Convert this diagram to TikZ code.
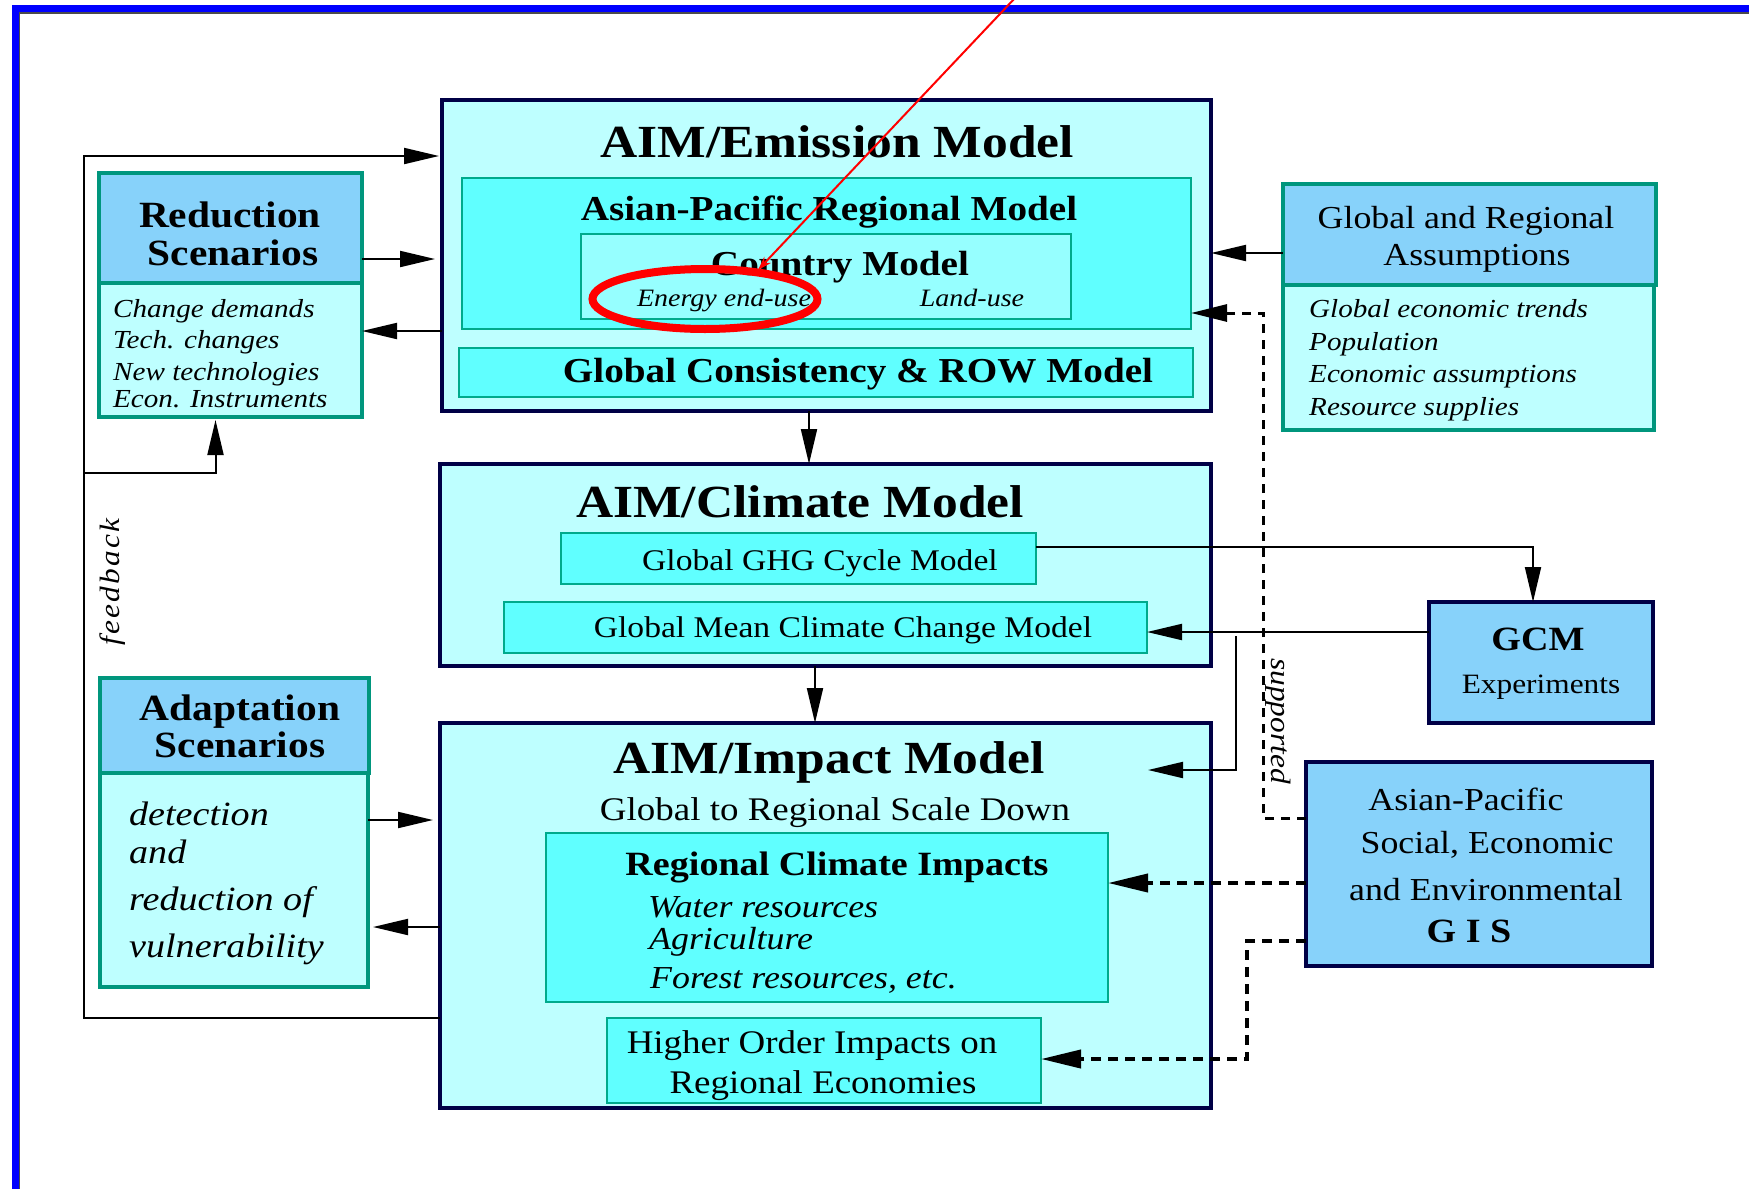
\documentclass[tikz,border=0pt]{standalone}
\usepackage{fontspec}
\setmainfont{Liberation Serif}[FakeStretch=1.12]
\usetikzlibrary{arrows.meta,shapes.geometric}
\definecolor{navyb}{RGB}{0,0,70}
\definecolor{lcyan}{RGB}{190,255,255}
\definecolor{mcyan}{RGB}{96,255,255}
\definecolor{ccyan}{RGB}{150,255,255}
\definecolor{sky}{RGB}{135,210,250}
\definecolor{tealb}{RGB}{0,150,125}
\definecolor{tealc}{RGB}{0,170,140}
\definecolor{frameblue}{RGB}{0,0,255}
\newcommand{\fsz}[1]{\fontsize{#1pt}{#1pt}\selectfont}
\begin{document}
\begin{tikzpicture}[x=1pt,y=-1pt,
  box/.style={anchor=north west, inner sep=0pt, outer sep=0pt},
  bigbox/.style={box, draw=navyb, line width=4pt, fill=lcyan},
  innerbox/.style={box, draw=tealc, line width=2.2pt, fill=mcyan},
  hdrbox/.style={box, draw=tealb, line width=3.5pt, fill=sky},
  bodybox/.style={box, draw=tealb, line width=3.5pt, fill=lcyan},
  navybox/.style={box, draw=navyb, line width=4pt, fill=sky},
  txt/.style={inner sep=0pt, anchor=base},
  ltxt/.style={inner sep=0pt, anchor=base west},
  arr/.style={line width=2pt, -{Triangle[length=35pt,width=16pt]}},
  darr/.style={line width=4pt, dash pattern=on 10pt off 7pt, -{Triangle[length=40pt,width=18pt]}},
  darrthin/.style={line width=3pt, dash pattern=on 9pt off 7pt, -{Triangle[length=36pt,width=17pt]}}
]
\useasboundingbox (0,0) rectangle (1749,1189);
\fill[white] (0,0) rectangle (1749,1189);
% window frame
\draw[gray!60!black, line width=1.5pt] (19.5,1189) -- (19.5,13) -- (1749,13);
\draw[frameblue, line width=7pt] (15,1189) -- (15,8.5) -- (1749,8.5);

% ---- boxes ----
\node[bigbox, minimum width=769pt, minimum height=311pt] (em) at (442,100) {};
\node[innerbox, minimum width=729pt, minimum height=151pt] (ap) at (462,178) {};
\node[innerbox, fill=ccyan, minimum width=490pt, minimum height=85pt] (cm) at (581,234) {};
\node[innerbox, minimum width=734pt, minimum height=49pt] (gc) at (459,348) {};

\node[bodybox, minimum width=263pt, minimum height=134pt] (redb) at (99,283) {};
\node[hdrbox, minimum width=263pt, minimum height=110pt] (redh) at (99,173) {};

\node[bodybox, minimum width=371pt, minimum height=145pt] (gab) at (1283,285) {};
\node[hdrbox, minimum width=373pt, minimum height=101pt] (gah) at (1283,184) {};

\node[bigbox, minimum width=771pt, minimum height=202pt] (cl) at (440,464) {};
\node[innerbox, minimum width=475pt, minimum height=51pt] (ghg) at (561,533) {};
\node[innerbox, minimum width=643pt, minimum height=51pt] (gm) at (504,602) {};

\node[navybox, minimum width=224pt, minimum height=121pt] (gcm) at (1429,602) {};

\node[bodybox, minimum width=268pt, minimum height=214pt] (adb) at (100,773) {};
\node[hdrbox, minimum width=269pt, minimum height=95pt] (adh) at (100,678) {};

\node[bigbox, minimum width=771pt, minimum height=385pt] (im) at (440,723) {};
\node[innerbox, minimum width=562pt, minimum height=169pt] (rci) at (546,833) {};
\node[innerbox, minimum width=434pt, minimum height=85pt] (ho) at (607,1018) {};

\node[navybox, minimum width=346pt, minimum height=204pt] (gis) at (1306,762) {};

% ---- texts (anchored on baselines) ----
\node[txt, font=\fsz{46}\bfseries] (emt) at (837,157) {AIM/Emission Model};
\node[txt, font=\fsz{35}\bfseries] (apt) at (829,220) {Asian-Pacific Regional Model};
\node[txt, font=\fsz{35}\bfseries] (cmt) at (840,275) {Country Model};
\node[txt, font=\fsz{25}\itshape] (eeu) at (724,306) {Energy end-use};
\node[txt, font=\fsz{25}\itshape] (lu) at (972,306) {Land-use};
\node[txt, font=\fsz{35}\bfseries] (gct) at (858,382) {Global Consistency \& ROW Model};

\node[txt, font=\fsz{37}\bfseries] (rt1) at (230,227) {Reduction};
\node[txt, font=\fsz{37}\bfseries] (rt2) at (233,265) {Scenarios};
\node[ltxt, font=\fsz{26}\itshape] (r1) at (113,317) {Change demands};
\node[ltxt, font=\fsz{26}\itshape] (r2) at (113,348) {Tech. changes};
\node[ltxt, font=\fsz{26}\itshape] (r3) at (113,380) {New technologies};
\node[ltxt, font=\fsz{26}\itshape] (r4) at (113,407) {Econ. Instruments};

\node[txt, font=\fsz{32}] (gt1) at (1466,228) {Global and Regional};
\node[txt, font=\fsz{32}] (gt2) at (1477,265) {Assumptions};
\node[ltxt, font=\fsz{26}\itshape] (g1) at (1309,317) {Global economic trends};
\node[ltxt, font=\fsz{26}\itshape] (g2) at (1309,350) {Population};
\node[ltxt, font=\fsz{26}\itshape] (g3) at (1309,382) {Economic assumptions};
\node[ltxt, font=\fsz{26}\itshape] (g4) at (1309,415) {Resource supplies};

\node[txt, font=\fsz{46}\bfseries] (clt) at (800,517) {AIM/Climate Model};
\node[txt, font=\fsz{30}] (ghgt) at (820,570) {Global GHG Cycle Model};
\node[txt, font=\fsz{30}] (gmt) at (843,637) {Global Mean Climate Change Model};

\node[txt, font=\fsz{34}\bfseries] (gcmt) at (1538,650) {GCM};
\node[txt, font=\fsz{28}] (gcme) at (1541,693) {Experiments};

\node[txt, font=\fsz{37}\bfseries] (at1) at (240,720) {Adaptation};
\node[txt, font=\fsz{37}\bfseries] (at2) at (240,757) {Scenarios};
\node[ltxt, font=\fsz{34}\itshape] (a1) at (129,825) {detection};
\node[ltxt, font=\fsz{34}\itshape] (a2) at (129,863) {and};
\node[ltxt, font=\fsz{34}\itshape] (a3) at (129,910) {reduction of};
\node[ltxt, font=\fsz{34}\itshape] (a4) at (129,957) {vulnerability};

\node[txt, font=\fsz{46}\bfseries] (imt) at (829,773) {AIM/Impact Model};
\node[txt, font=\fsz{33}] (gts) at (835,820) {Global to Regional Scale Down};
\node[txt, font=\fsz{34}\bfseries] (rcit) at (837,875) {Regional Climate Impacts};
\node[ltxt, font=\fsz{32}\itshape] (w1) at (648,917) {Water resources};
\node[ltxt, font=\fsz{32}\itshape] (w2) at (649,949) {Agriculture};
\node[ltxt, font=\fsz{32}\itshape] (w3) at (650,988) {Forest resources, etc.};
\node[txt, font=\fsz{33}] (ho1) at (812,1053) {Higher Order Impacts on};
\node[txt, font=\fsz{33}] (ho2) at (823,1093) {Regional Economies};

\node[txt, font=\fsz{32}] (gis1) at (1466,810) {Asian-Pacific};
\node[txt, font=\fsz{32}] (gis2) at (1487,853) {Social, Economic};
\node[txt, font=\fsz{32}] (gis3) at (1486,900) {and Environmental};
\node[txt, font=\fsz{34}\bfseries] (gis4) at (1469,942) {G I S};

\node[inner sep=0pt, rotate=90, font=\fsz{28}\itshape\addfontfeature{LetterSpace=8}] (fbt) at (113,582) {feedback};
\node[inner sep=0pt, rotate=-90, font=\fsz{28}\itshape] (spt) at (1278,721) {supported};

% ---- connectors ----
\coordinate (fb) at (84,473);
\draw[arr, shorten >=3pt] (im.west |- 0,1018) -| (fb) |- (em.west |- 0,156);
\draw[arr, shorten >=3pt] (fb) -| ([xshift=-15pt]redb.south);
\draw[arr, shorten >=7pt] (redh.east |- 0,259) -- (em.west |- 0,259);
\draw[arr] (em.west |- 0,331) -- (redb.east |- 0,331);
\draw[arr] (gah.west |- 0,253) -- (em.east |- 0,253);
\coordinate (sup) at (1263,313);
\draw[darrthin] (gis.west |- 0,818) -| (sup) -- (ap.east |- 0,313);
\draw[arr] (em.south -| 809,0) -- (cl.north -| 809,0);
\draw[arr] (cl.south -| 815,0) -- (im.north -| 815,0);
\draw[arr] (ghg.east |- 0,547) -| (gcm.north -| 1533,0);
\draw[arr] (gcm.west |- 0,632) -- (gm.east |- 0,632);
\coordinate (brs) at (1236,636);
\coordinate (brt) at (1148,770);
\draw[arr] (brs) |- (brt);
\draw[arr, shorten >=7pt] (adb.east |- 0,820) -- (im.west |- 0,820);
\draw[arr, shorten >=5pt] (im.west |- 0,927) -- (adb.east |- 0,927);
\draw[darr] (gis.west |- 0,883) -- (rci.east |- 0,883);
\coordinate (hk) at (1247,1059);
\draw[darr] (gis.west |- 0,941) -| (hk) -- (ho.east |- 0,1059);

% ---- red annotation ----
\node[draw=red, line width=8pt, ellipse, inner sep=0pt, minimum width=225pt, minimum height=60pt] (ell) at (705,299) {};
\coordinate (rtop) at (1015,-2);
\coordinate (rtip) at (758,270);
\draw[red, line width=2pt, -{Stealth[length=14pt,width=9pt]}] (rtop) -- (rtip);
\end{tikzpicture}
\end{document}
